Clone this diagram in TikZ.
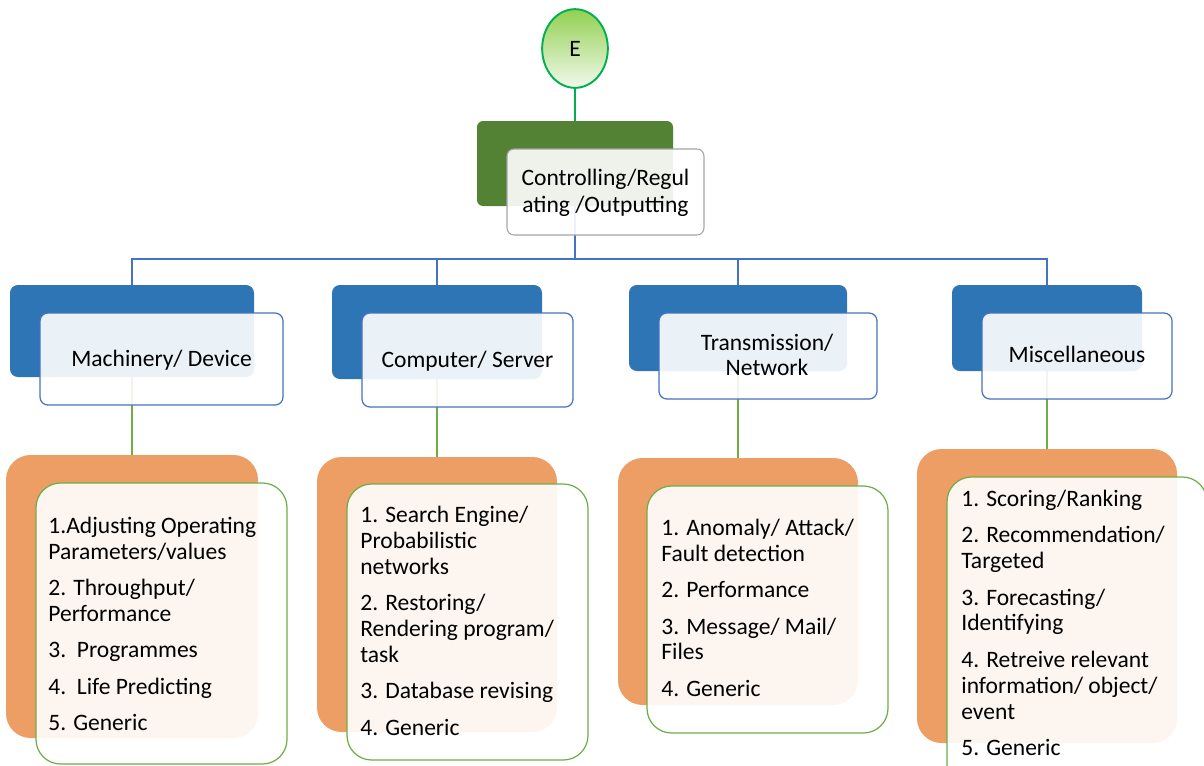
\documentclass[tikz,border=0pt]{standalone}
\usepackage{fontspec}
\setmainfont{Carlito}
\usetikzlibrary{fit,shapes.geometric,backgrounds}

\definecolor{rootgreen}{RGB}{84,130,53}
\definecolor{midblue}{RGB}{46,117,182}
\definecolor{lineblue}{RGB}{68,114,196}
\definecolor{leafgreen}{RGB}{112,173,71}
\definecolor{leaforange}{RGB}{237,158,100}
\definecolor{ovalgreen}{RGB}{0,176,80}
\definecolor{ovaltop}{RGB}{146,208,80}
\definecolor{ovalbot}{RGB}{242,249,236}
\definecolor{rootgray}{RGB}{165,165,165}

\begin{document}
\begin{tikzpicture}[x=0.02cm, y=-0.02cm,
  every node/.style={font=\fontsize{13.4}{15}\selectfont, text=black},
  box/.style={inner sep=0pt, draw=none},
  rootback/.style={box, fill=rootgreen, rounded corners=3.5pt},
  rootfront/.style={box, draw=rootgray, line width=0.6pt, fill=white, fill opacity=0.9, rounded corners=4pt},
  midback/.style={box, fill=midblue, rounded corners=4.5pt},
  midfront/.style={box, draw=lineblue, line width=0.7pt, fill=white, fill opacity=0.9, rounded corners=4.5pt},
  leafback/.style={box, fill=leaforange, rounded corners=14pt},
  leaffront/.style={box, draw=leafgreen, line width=0.7pt, fill=white, fill opacity=0.9, rounded corners=14pt},
  boxtext/.style={inner sep=0pt, align=center},
  itemtext/.style={inner sep=0pt, align=left, anchor=north west, font=\fontsize{13.4}{14.74}\selectfont},
  trunk/.style={draw=lineblue, line width=0.85pt},
  twig/.style={draw=leafgreen, line width=0.75pt},
]
\useasboundingbox (0,0) rectangle (1204,765);
\clip (0,0) rectangle (1204,765);

% top oval
\node[ellipse, draw=ovalgreen, line width=1.1pt, top color=ovaltop, bottom color=ovalbot,
      minimum width=37.4pt, minimum height=44.8pt, inner sep=0pt] (e) at (575,48.5) {E};

% back plates
\node[rootback, fit={(477,121)(673,206)}] (rb) {};
\node[midback, fit={(10,285)(254,377)}] (m1b) {};
\node[midback, fit={(332,285)(542,379)}] (m2b) {};
\node[midback, fit={(629,285)(847,371)}] (m3b) {};
\node[midback, fit={(952,285)(1142,371)}] (m4b) {};
\node[leafback, fit={(6,455)(258,738)}] (l1b) {};
\node[leafback, fit={(317,457)(557,732)}] (l2b) {};
\node[leafback, fit={(618,458)(858,705)}] (l3b) {};
\node[leafback, fit={(917,449)(1177,743)}] (l4b) {};

% translucent front panels
\node[rootfront, fit={(507,149)(704,235)}] (rf) {};
\node[midfront, fit={(40,313)(283,405)}] (m1f) {};
\node[midfront, fit={(362,313)(573,407)}] (m2f) {};
\node[midfront, fit={(659,313)(877,399)}] (m3f) {};
\node[midfront, fit={(982,313)(1172,399)}] (m4f) {};
\node[leaffront, fit={(36,483)(287,764)}] (l1f) {};
\node[leaffront, fit={(347,484)(588,760)}] (l2f) {};
\node[leaffront, fit={(647,486)(888,733)}] (l3f) {};
\node[leaffront, fit={(947,477)(1207,795)}] (l4f) {};

% captions
\node[boxtext, anchor=north, font=\fontsize{13.4}{15.3}\selectfont] (rt) at (605.5,163.8)
  {\rule{0pt}{12pt}Controlling/Regul\\ating /Outputting};
\node[boxtext, anchor=base] (m1t) at (161.5,366) {Machinery/ Device};
\node[boxtext, anchor=base] (m2t) at (467.5,367) {Computer/ Server};
\node[boxtext, anchor=north, font=\fontsize{13.4}{14.5}\selectfont] (m3t) at (767,328.8)
  {\rule{0pt}{12pt}Transmission/\\Network};
\node[boxtext, anchor=base] (m4t) at (1077,362) {Miscellaneous};

% item lists
\node[itemtext] (l1t) at (48,511.8)
  {\rule{0pt}{12pt}1.Adjusting Operating\\Parameters/values\\[6pt]
   2. Throughput/\\Performance\\[6pt]
   3.~~Programmes\\[6pt]
   4.~~Life Predicting\\[6pt]
   5. Generic};
\node[itemtext] (l2t) at (360,500.8)
  {\rule{0pt}{12pt}1. Search Engine/\\Probabilistic\\networks\\[6pt]
   2. Restoring/\\Rendering program/\\task\\[6pt]
   3. Database revising\\[6pt]
   4. Generic};
\node[itemtext] (l3t) at (661,513.8)
  {\rule{0pt}{12pt}1. Anomaly/ Attack/\\Fault detection\\[6pt]
   2. Performance\\[6pt]
   3. Message/ Mail/\\Files\\[6pt]
   4. Generic};
\node[itemtext] (l4t) at (961,484.8)
  {\rule{0pt}{12pt}1. Scoring/Ranking\\[6pt]
   2. Recommendation/\\Targeted\\[6pt]
   3. Forecasting/\\Identifying\\[6pt]
   4. Retreive relevant\\information/ object/\\event\\[6pt]
   5. Generic};

% connectors, kept behind the boxes
\begin{pgfonlayer}{background}
  \coordinate (bus) at (575,259);
  \draw[ovalgreen, line width=1.1pt] (e.south) -- (e.south |- rb.north);
  \draw[trunk] (rb.south) -- (rb.south |- bus);
  \draw[trunk] (m1b.north) -- (m1b.north |- bus) -- (m4b.north |- bus) -- (m4b.north);
  \draw[trunk] (m2b.north |- bus) -- (m2b.north);
  \draw[trunk] (m3b.north |- bus) -- (m3b.north);
  \draw[twig] (m1b.south) -- (m1b.south |- l1b.north);
  \draw[twig] (m2b.south) -- (m2b.south |- l2b.north);
  \draw[twig] (m3b.south) -- (m3b.south |- l3b.north);
  \draw[twig] (m4b.south) -- (m4b.south |- l4b.north);
\end{pgfonlayer}
\end{tikzpicture}
\end{document}
